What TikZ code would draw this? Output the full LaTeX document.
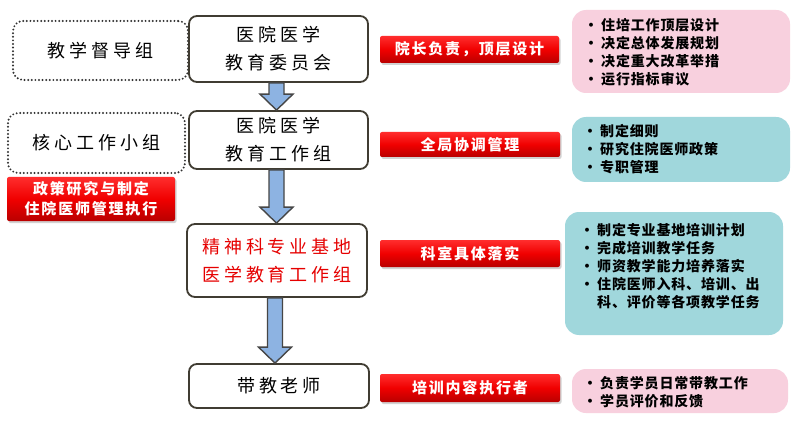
\documentclass[tikz,border=0pt]{standalone}
\usepackage{fontspec}
\setmainfont{Noto Sans CJK SC}
\newfontfamily\boxf{Noto Sans CJK SC}[LetterSpace=22]
\newfontfamily\labf{Noto Sans CJK SC}[LetterSpace=12]
\newfontfamily\bulf{Noto Sans CJK SC}[LetterSpace=6]
\usetikzlibrary{calc,shadows}
\definecolor{boxborder}{RGB}{64,60,50}
\definecolor{dotc}{RGB}{50,50,50}
\definecolor{arrfill}{RGB}{141,179,226}
\definecolor{arrdraw}{RGB}{70,70,70}
\definecolor{redtop}{RGB}{255,45,45}
\definecolor{redmid}{RGB}{240,0,0}
\definecolor{redbot}{RGB}{185,0,0}
\definecolor{pinkf}{RGB}{248,208,222}
\definecolor{tealf}{RGB}{160,215,220}
\definecolor{redtext}{RGB}{230,0,0}
\newcommand\bul[1]{\makebox[17pt][l]{•}#1}
\newcommand\cnt[1]{\hspace*{17pt}#1}
\newcommand\flowarrow[2]{%
  \path ($(#1.south)+(-2,0)$) coordinate (fa-s);
  \path (fa-s |- #2.north) coordinate (fa-e);
  \draw[bigarr] ($(fa-s)+(-7.5,0)$) -- ($(fa-e)+(-7.5,-16)$) -- ($(fa-e)+(-16.5,-16)$)
    -- (fa-e) -- ($(fa-e)+(16.5,-16)$) -- ($(fa-e)+(7.5,-16)$) -- ($(fa-s)+(7.5,0)$) -- cycle;}
\begin{document}
\begin{tikzpicture}[x=1pt,y=-1pt,
  mainbox/.style={draw=boxborder, line width=1.8pt, rounded corners=8pt, fill=white,
    minimum width=179pt, inner sep=0pt, align=center,
    font=\boxf\fontsize{18}{28}\selectfont},
  dotbox/.style={draw=dotc, line width=2.2pt, dash pattern=on 0pt off 3.6pt,
    line cap=round, rounded corners=10pt, inner sep=0pt, align=center,
    font=\boxf\fontsize{18}{28}\selectfont},
  redlab/.style={rounded corners=2pt, top color=redtop, bottom color=redbot, middle color=redmid,
    drop shadow={shadow xshift=1.5pt, shadow yshift=-2pt, opacity=0.35},
    text=white, inner sep=0pt, align=center,
    font=\labf\bfseries\fontsize{15}{20}\selectfont},
  infobox/.style={rounded corners=14pt, inner sep=0pt},
  bultext/.style={anchor=west, inner sep=0pt, align=left,
    font=\bulf\bfseries\fontsize{14}{18}\selectfont},
  bigarr/.style={fill=arrfill, draw=arrdraw, line width=1.4pt, line join=miter}]
\useasboundingbox[fill=white] (0,0) rectangle (800,422);

% dotted side boxes
\node[dotbox, minimum width=175pt, minimum height=59pt] (d1) at (100.5,50.5) {教学督导组};
\node[dotbox, minimum width=177pt, minimum height=60pt] (d2) at (96.5,143) {核心工作小组};
\node[redlab, minimum width=168pt, minimum height=44pt] (lr) at (91,199) {政策研究与制定\\住院医师管理执行};

% main column
\node[mainbox, minimum height=66pt] (b1) at (278.5,49) {医院医学\\教育委员会};
\node[mainbox, minimum height=58pt] (b2) at (278.5,140) {医院医学\\教育工作组};
\node[mainbox, minimum width=180pt, minimum height=73pt, text=redtext] (b3) at (277,260.5) {精神科专业基地\\医学教育工作组};
\node[mainbox, minimum width=180pt, minimum height=44pt] (b4) at (279,386) {带教老师};

\flowarrow{b1}{b2}
\flowarrow{b2}{b3}
\flowarrow{b3}{b4}

% red labels
\node[redlab, minimum width=179pt, minimum height=27pt] (r1) at (469.5,49.5) {院长负责，顶层设计};
\node[redlab, minimum width=180pt, minimum height=25pt] (r2) at (470,144.5) {全局协调管理};
\node[redlab, minimum width=180pt, minimum height=27pt] (r3) at (470,253.5) {科室具体落实};
\node[redlab, minimum width=180pt, minimum height=28pt] (r4) at (470,388) {培训内容执行者};

% info boxes
\node[infobox, fill=pinkf, minimum width=218pt, minimum height=83pt] (i1) at (681,51.5) {};
\node[infobox, fill=tealf, minimum width=218pt, minimum height=65pt] (i2) at (681,149.5) {};
\node[infobox, fill=tealf, minimum width=218pt, minimum height=123pt] (i3) at (674,273.5) {};
\node[infobox, fill=pinkf, minimum width=216pt, minimum height=44pt] (i4) at (680,391) {};

\node[bultext] (t1) at (584,52) {\bul{住培工作顶层设计}\\\bul{决定总体发展规划}\\\bul{决定重大改革举措}\\\bul{运行指标审议}};
\node[bultext] (t2) at (583,149.5) {\bul{制定细则}\\\bul{研究住院医师政策}\\\bul{专职管理}};
\node[bultext] (t3) at (580,266) {\bul{制定专业基地培训计划}\\\bul{完成培训教学任务}\\\bul{师资教学能力培养落实}\\\bul{住院医师入科、培训、出}\\\cnt{科、评价等各项教学任务}};
\node[bultext] (t4) at (583,392.5) {\bul{负责学员日常带教工作}\\\bul{学员评价和反馈}};
\end{tikzpicture}
\end{document}
